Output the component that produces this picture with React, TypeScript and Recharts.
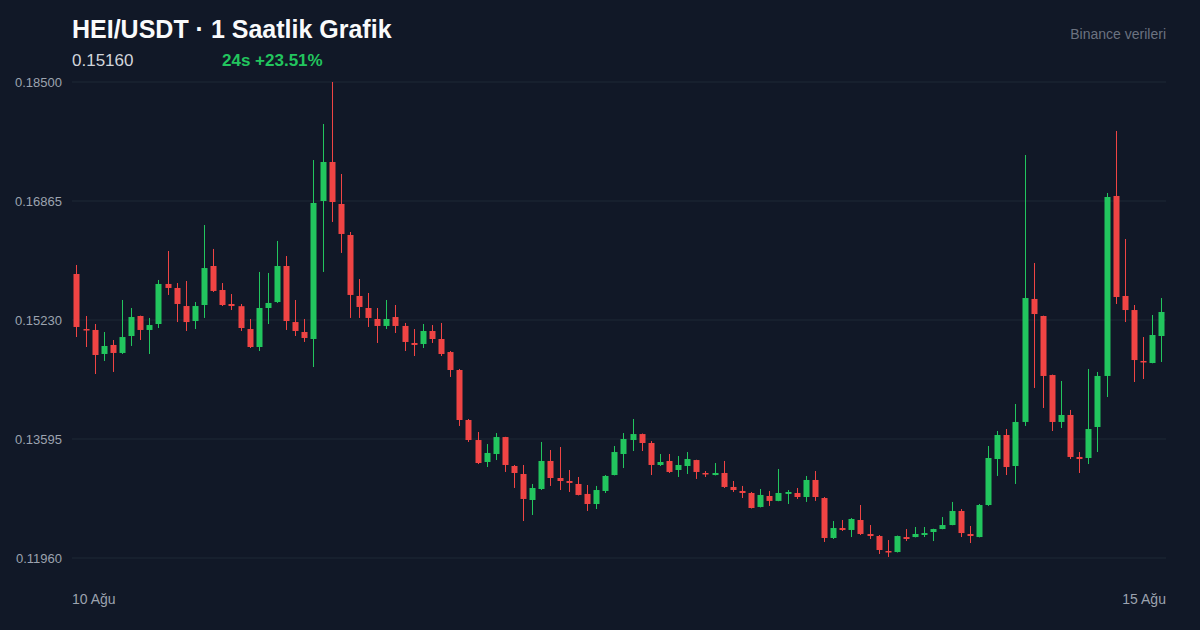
import React from "react";
import { ComposedChart, Bar, XAxis, YAxis, CartesianGrid } from "recharts";

// HEI/USDT hourly candles (120 candles, 10 → 15 Ağu)
const OPEN = [
  0.15862, 0.15106, 0.15093, 0.14763, 0.14887, 0.14777, 0.1501, 0.15285, 0.15093, 0.15175,
  0.15725, 0.1567, 0.15422, 0.15216, 0.15436, 0.15972, 0.15642, 0.1545, 0.1542, 0.15106,
  0.14859, 0.15395, 0.15477, 0.15972, 0.15202, 0.15065, 0.14969, 0.16865, 0.17401, 0.16824,
  0.16398, 0.1556, 0.15395, 0.15244, 0.15148, 0.15271, 0.15148, 0.14914, 0.149, 0.15079,
  0.14969, 0.1479, 0.14543, 0.13856, 0.13581, 0.13279, 0.13389, 0.13622, 0.13224, 0.13114,
  0.12757, 0.12908, 0.13293, 0.13059, 0.13018, 0.12977, 0.1284, 0.12702, 0.12881, 0.131,
  0.13389, 0.13581, 0.13663, 0.1354, 0.13238, 0.13293, 0.13169, 0.13224, 0.13306, 0.13128,
  0.131, 0.13128, 0.12936, 0.12881, 0.12853, 0.12661, 0.12812, 0.12744, 0.1284, 0.12853,
  0.12798, 0.13032, 0.12784, 0.12235, 0.12372, 0.12345, 0.12482, 0.1229, 0.12262, 0.12056,
  0.12042, 0.12248, 0.12248, 0.12276, 0.12317, 0.12358, 0.12413, 0.12606, 0.1229, 0.12248,
  0.12688, 0.1332, 0.1365, 0.13224, 0.13829, 0.15519, 0.15285, 0.14474, 0.13829, 0.13925,
  0.13348, 0.13334, 0.1376, 0.14461, 0.16934, 0.1556, 0.15367, 0.14667, 0.14639, 0.1501,
];
const HIGH = [
  0.15986, 0.15285, 0.15175, 0.15065, 0.14955, 0.15505, 0.15395, 0.1529, 0.15258, 0.1578,
  0.16178, 0.15738, 0.15766, 0.15477, 0.16535, 0.16206, 0.15738, 0.15587, 0.1545, 0.15244,
  0.1589, 0.15876, 0.16316, 0.16109, 0.15505, 0.15244, 0.17428, 0.17923, 0.185, 0.17236,
  0.16439, 0.15793, 0.15601, 0.15395, 0.15505, 0.15436, 0.15189, 0.15106, 0.15175, 0.15161,
  0.15189, 0.14804, 0.14557, 0.1387, 0.13691, 0.13526, 0.13677, 0.13625, 0.13238, 0.13238,
  0.12977, 0.13554, 0.13444, 0.13485, 0.13169, 0.13073, 0.12963, 0.1295, 0.131, 0.13499,
  0.13677, 0.1387, 0.1367, 0.13567, 0.13389, 0.13389, 0.13361, 0.13416, 0.1331, 0.13155,
  0.13265, 0.13293, 0.13018, 0.1295, 0.12867, 0.12908, 0.12881, 0.13183, 0.12894, 0.12922,
  0.13087, 0.13155, 0.12798, 0.12468, 0.12482, 0.12509, 0.12688, 0.12413, 0.12276, 0.12207,
  0.12268, 0.12358, 0.12386, 0.12386, 0.12362, 0.12523, 0.1273, 0.12633, 0.124, 0.12702,
  0.13499, 0.13705, 0.13732, 0.14076, 0.17497, 0.16013, 0.1529, 0.1448, 0.14392, 0.13994,
  0.13416, 0.14557, 0.14516, 0.16975, 0.17827, 0.16343, 0.15436, 0.14996, 0.15299, 0.15532,
];
const LOW = [
  0.14996, 0.14859, 0.14488, 0.14667, 0.14516, 0.14763, 0.14873, 0.14955, 0.14763, 0.1512,
  0.15574, 0.15202, 0.15079, 0.15106, 0.15258, 0.15615, 0.15422, 0.15367, 0.15079, 0.14845,
  0.14804, 0.15175, 0.15464, 0.15093, 0.1501, 0.14928, 0.14584, 0.1589, 0.16577, 0.16151,
  0.15258, 0.15258, 0.15134, 0.14914, 0.15106, 0.15051, 0.14804, 0.14735, 0.14845, 0.14914,
  0.14735, 0.14447, 0.13774, 0.13554, 0.13251, 0.1321, 0.13306, 0.13142, 0.12922, 0.12468,
  0.12551, 0.12894, 0.1295, 0.12894, 0.12867, 0.1282, 0.12606, 0.12633, 0.12853, 0.13095,
  0.13196, 0.1343, 0.1343, 0.131, 0.13224, 0.13128, 0.13073, 0.13114, 0.13046, 0.13073,
  0.13095, 0.12922, 0.12867, 0.12784, 0.1264, 0.12655, 0.12675, 0.1274, 0.12702, 0.12771,
  0.1273, 0.12744, 0.1218, 0.12221, 0.12331, 0.12248, 0.12276, 0.12221, 0.12015, 0.11974,
  0.12035, 0.12193, 0.12243, 0.12248, 0.12193, 0.12355, 0.1241, 0.12248, 0.12166, 0.12243,
  0.12675, 0.13087, 0.131, 0.12977, 0.13774, 0.14296, 0.14021, 0.13705, 0.13746, 0.1332,
  0.13128, 0.13251, 0.13416, 0.14172, 0.1545, 0.15202, 0.14378, 0.14419, 0.14635, 0.14653,
];
const CLOSE = [
  0.15134, 0.15093, 0.14749, 0.14873, 0.14777, 0.14996, 0.15271, 0.15093, 0.15161, 0.15725,
  0.1567, 0.1545, 0.15202, 0.15422, 0.15944, 0.15629, 0.15436, 0.15422, 0.1512, 0.14859,
  0.15395, 0.15464, 0.15972, 0.15216, 0.15079, 0.14983, 0.16838, 0.17401, 0.16851, 0.16412,
  0.15574, 0.15409, 0.15258, 0.15148, 0.15244, 0.15148, 0.14928, 0.14887, 0.15079, 0.14969,
  0.14763, 0.14543, 0.13856, 0.13581, 0.13265, 0.13403, 0.13622, 0.13238, 0.13128, 0.12771,
  0.12922, 0.13293, 0.13059, 0.13018, 0.12991, 0.12826, 0.12702, 0.12894, 0.13087, 0.13416,
  0.13595, 0.13663, 0.1354, 0.13238, 0.13279, 0.13142, 0.13238, 0.1332, 0.13142, 0.13114,
  0.13128, 0.12936, 0.12894, 0.12853, 0.12647, 0.12826, 0.12744, 0.12853, 0.12867, 0.12798,
  0.13032, 0.12798, 0.12235, 0.12372, 0.12345, 0.12496, 0.1229, 0.12262, 0.1207, 0.12042,
  0.12262, 0.12221, 0.1229, 0.12303, 0.12358, 0.12413, 0.12606, 0.12303, 0.12262, 0.12688,
  0.13334, 0.1365, 0.1321, 0.13829, 0.15532, 0.15312, 0.14461, 0.13829, 0.13925, 0.13348,
  0.1332, 0.13732, 0.14461, 0.1692, 0.15546, 0.15367, 0.1468, 0.14653, 0.15024, 0.1534,
];

const Y_TICKS = [0.185, 0.16865, 0.1523, 0.13595, 0.1196];
const X_LABELS = ["10 Ağu", "15 Ağu"];

const UP = "#22c55e";
const DOWN = "#ef4444";
const BG = "#111827";
const FONT = '"Liberation Sans", Arial, Helvetica, sans-serif';

const data = OPEN.map((o, i) => ({ i, o, h: HIGH[i], l: LOW[i], c: CLOSE[i] }));

// Range bar [low, high] gives the wick; open/close are placed inside it.
function Candle(props: any) {
  const { x, y, width, height, payload } = props;
  if (!payload || height == null) return null;
  const { o, h, l, c } = payload;
  const top = Math.min(y, y + height);
  const bottom = Math.max(y, y + height);
  const ppu = h > l ? (bottom - top) / (h - l) : 0;
  const yO = top + (h - o) * ppu;
  const yC = top + (h - c) * ppu;
  const color = c >= o ? UP : DOWN;
  const cx = Math.round(x + width / 2) + 0.5;
  const bw = 6;
  const bodyTop = Math.min(yO, yC);
  const bodyH = Math.max(Math.abs(yO - yC), 1.5);
  return (
    <g>
      <line x1={cx} x2={cx} y1={top} y2={bottom} stroke={color} strokeWidth={1} />
      <rect x={cx - bw / 2} y={bodyTop} width={bw} height={bodyH} fill={color} />
    </g>
  );
}

function DayTick(props: any) {
  const { x, y, payload } = props;
  const v = payload?.value;
  if (v !== 0 && v !== OPEN.length - 1) return <g />;
  const first = v === 0;
  return (
    <text
      x={first ? x - 4.5 : x + 4.5}
      y={y + 38}
      textAnchor={first ? "start" : "end"}
      fill="#9ca3af"
      fontSize={14}
      fontFamily={FONT}
    >
      {first ? X_LABELS[0] : X_LABELS[1]}
    </text>
  );
}

export default function App() {
  return (
    <div
      style={{
        position: "absolute",
        left: 0,
        top: 0,
        width: 1200,
        height: 630,
        background: BG,
        fontFamily: FONT,
        overflow: "hidden",
      }}
    >
      <div style={{ position: "absolute", left: 72, top: 17, fontSize: 25, lineHeight: "25px", fontWeight: 700, color: "#f9fafb", whiteSpace: "nowrap" }}>
        HEI/USDT · 1 Saatlik Grafik
      </div>
      <div style={{ position: "absolute", left: 72, top: 52, fontSize: 17, lineHeight: "17px", color: "#d1d5db", whiteSpace: "nowrap" }}>
        0.15160
      </div>
      <div style={{ position: "absolute", left: 222, top: 52, fontSize: 17, lineHeight: "17px", fontWeight: 700, color: UP, whiteSpace: "nowrap" }}>
        24s +23.51%
      </div>
      <div style={{ position: "absolute", right: 34, top: 26.5, fontSize: 14, lineHeight: "14px", color: "#6b7280", whiteSpace: "nowrap" }}>
        Binance verileri
      </div>
      <ComposedChart
        width={1200}
        height={630}
        data={data}
        margin={{ top: 82, right: 34, bottom: 42, left: 12 }}
        style={{ position: "absolute", left: 0, top: 0 }}
      >
        <CartesianGrid vertical={false} stroke="#1f2937" strokeWidth={1} />
        <XAxis
          dataKey="i"
          type="category"
          height={30}
          interval={0}
          axisLine={false}
          tickLine={false}
          tick={<DayTick />}
        />
        <YAxis
          width={60}
          domain={[0.1196, 0.185]}
          ticks={Y_TICKS}
          allowDataOverflow
          axisLine={false}
          tickLine={false}
          tickMargin={4}
          tickFormatter={(v: number) => v.toFixed(5)}
          tick={{ fill: "#9ca3af", fontSize: 13, fontFamily: FONT }}
        />
        <Bar dataKey={(d: any) => [d.l, d.h]} shape={<Candle />} isAnimationActive={false} />
      </ComposedChart>
    </div>
  );
}
